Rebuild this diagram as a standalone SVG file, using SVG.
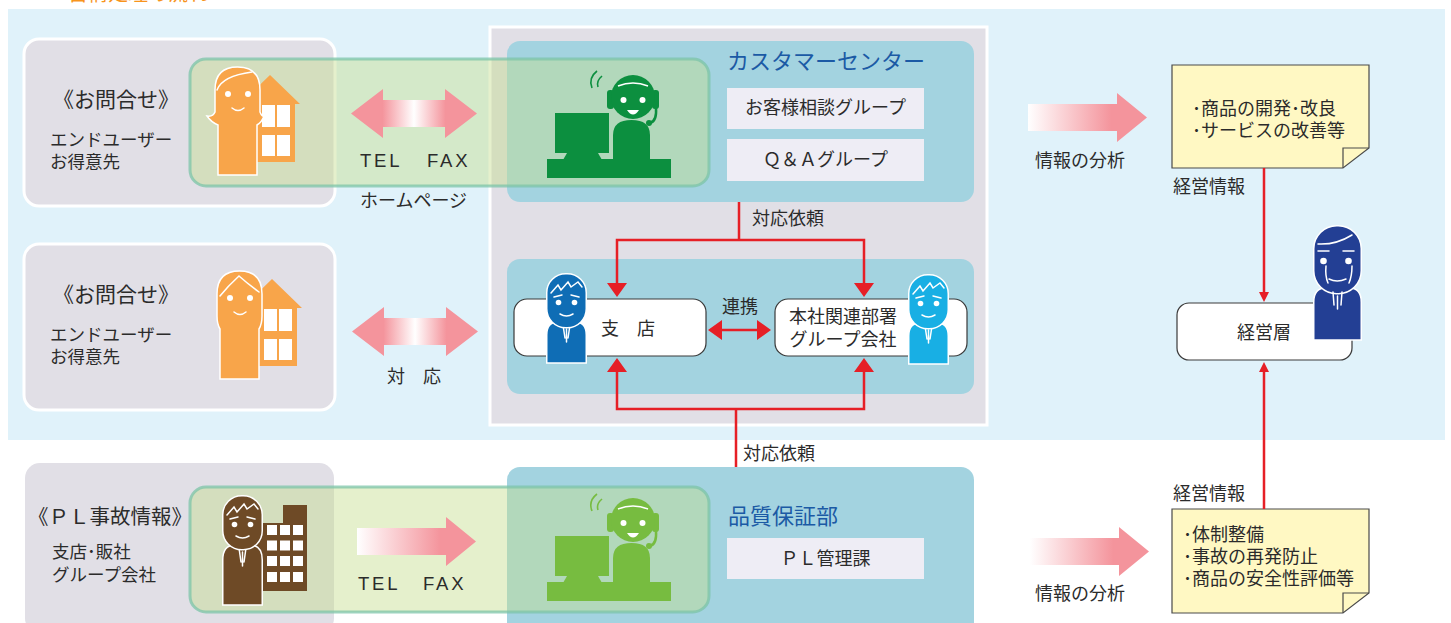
<svg xmlns="http://www.w3.org/2000/svg" width="1451" height="623" viewBox="0 0 1451 623">
<defs>
<style>
.t{font-family:"Liberation Sans","Noto Sans CJK JP",sans-serif;fill:#2b2b2b}
.ttl{font-family:"Liberation Sans","Noto Sans CJK JP",sans-serif;fill:#1b5aa5}
.box{fill:#e1dfe6;stroke:#fff;stroke-width:3}
.teal{fill:#a3d3e0}
.sub{fill:#eeedf5}
.band{fill:#c6de8e;fill-opacity:.45;stroke:#7cc4a8;stroke-opacity:.75;stroke-width:3}
.rb{fill:#fff;stroke:#3a3a3a;stroke-width:1.2}
.note{fill:#fff8c3;stroke:#4a4a4a;stroke-width:1.2}
.red{stroke:#e61f26;stroke-width:2.5;fill:none}
.redh{fill:#e61f26}
.wl{fill:none;stroke:#fff;stroke-width:1.5;stroke-linecap:round}
.wf{fill:#fff}
.ic{fill:currentColor;stroke:#fff;stroke-width:1.5}
</style>
<linearGradient id="g2" x1="0" x2="1" y1="0" y2="0">
<stop offset="0" stop-color="#f4949c"/>
<stop offset=".25" stop-color="#f4949c"/>
<stop offset=".5" stop-color="#fff"/>
<stop offset=".75" stop-color="#f4949c"/>
<stop offset="1" stop-color="#f4949c"/>
</linearGradient>
<linearGradient id="g1" x1="0" x2="1" y1="0" y2="0">
<stop offset="0" stop-color="#fff"/>
<stop offset=".7" stop-color="#f4949c"/>
<stop offset="1" stop-color="#f4949c"/>
</linearGradient>
<!-- double-headed pink arrow -->
<path id="dbl" d="M0 24.5 L32 0 L32 11 L94 11 L94 0 L126 24.5 L94 49 L94 38 L32 38 L32 49 Z" fill="url(#g2)"/>
<!-- single pink arrow -->
<path id="sgl" d="M0 11 L89 11 L89 0 L119 24.5 L89 49 L89 38 L0 38 Z" fill="url(#g1)"/>
<!-- operator with headset at a desk -->
<g id="op">
<path d="M50 4 Q41 11 45 21 M55 9 Q49 14 51 20" fill="none" stroke="currentColor" stroke-width="1.6"/>
<rect x="60" y="23" width="7" height="19" rx="3" fill="currentColor"/>
<rect x="105" y="23" width="7" height="19" rx="3" fill="currentColor"/>
<circle cx="86" cy="30" r="22" fill="currentColor"/>
<path d="M71 19 Q86 13 101 19" fill="none" stroke="#fff" stroke-width="1.5"/>
<circle cx="76.5" cy="33" r="3" fill="#fff"/>
<circle cx="95.5" cy="33" r="3" fill="#fff"/>
<path d="M80 43 Q86 52 92 43 Z" fill="#fff"/>
<path d="M109 41 Q110 54 103 56" fill="none" stroke="currentColor" stroke-width="2.5"/>
<circle cx="102" cy="56" r="3" fill="currentColor"/>
<path d="M66 111 L66 68 Q66 53 84.5 53 Q103 53 103 68 L103 111 Z" fill="currentColor"/>
<rect x="8" y="46" width="54" height="40" fill="currentColor"/>
<path d="M20 86 L51 86 L55 93 L16 93 Z" fill="currentColor"/>
<rect x="0" y="92" width="124" height="19" fill="currentColor"/>
</g>
<!-- man's head -->
<g id="mhead">
<rect x="0.75" y="0.75" width="39.5" height="54" rx="19" class="ic"/>
<polyline points="5,20 12,12 15,17 22,9 25,14 32,9 36,14" class="wl"/>
<path d="M8 24 L16 22 M25 22 L33 24" class="wl"/>
<circle cx="12.5" cy="29.5" r="2.8" class="wf"/>
<circle cx="28.5" cy="29.5" r="2.8" class="wf"/>
<path d="M14 41 Q20.5 45 27 41" class="wl"/>
</g>
<!-- woman and house -->
<g id="house">
<path d="M240 104 L270 75 L300 104 L295 104 L295 162 L245 162 L245 104 Z" fill="#f8a54a"/>
<rect x="262" y="105" width="13" height="22" class="wf"/>
<rect x="277" y="105" width="13" height="22" class="wf"/>
<rect x="262" y="135" width="13" height="21" class="wf"/>
<rect x="277" y="135" width="13" height="21" class="wf"/>
</g>
<g id="wface">
<circle cx="228" cy="94" r="3" class="wf"/>
<circle cx="248" cy="94" r="3" class="wf"/>
<path d="M232 108 Q238 113 244 108" class="wl"/>
</g>
</defs>

<!-- background -->
<rect x="0" y="0" width="1451" height="623" fill="#fff"/>
<rect x="8" y="9" width="1437" height="431" fill="#e0f2fa"/>
<text class="t" x="10" y="0.5" font-size="20" style="fill:#f9b574">■</text>
<text class="t" x="68" y="0.5" font-size="20" style="fill:#f7941d">苦情処理の流れ</text>

<!-- source panels -->
<g id="src-inquiry-1"><rect x="24" y="39" width="311" height="167" rx="15" class="box"/></g>
<g id="src-inquiry-2"><rect x="24" y="244" width="311" height="166" rx="15" class="box"/></g>
<g id="src-pl"><rect x="25" y="463" width="309" height="170" rx="15" fill="#e1dfe6"/></g>

<!-- internal organisation -->
<g id="org-panel"><rect x="490" y="27" width="497" height="398" class="box"/></g>
<g id="customer-center">
<rect x="507" y="41" width="467" height="161" rx="13" class="teal"/>
</g>
<g id="branch-area">
<rect x="507" y="259" width="467" height="135" rx="13" class="teal"/>
</g>
<g id="qa-dept">
<rect x="507" y="467" width="467" height="170" rx="13" class="teal"/>
</g>

<!-- contact channels -->
<rect x="190" y="59" width="519" height="127" rx="16" class="band"/>
<rect x="190" y="487" width="519" height="125" rx="16" class="band"/>

<!-- customers -->
<g id="woman-1">
<use href="#house"/>
<path d="M218 175 L218 125 Q211 122 207 116 Q213 117 215 112 L215 90 Q215 67 237.5 67 Q260 67 260 90 L260 112 Q262 117 264 116 Q262 122 257 125 L257 175 Z" fill="#f8a54a" stroke="#fff" stroke-width="1.5"/>
<path d="M217 90 Q222 76 252 72" class="wl"/>
<use href="#wface"/>
</g>
<g id="woman-2" transform="translate(2,204)">
<use href="#house"/>
<path d="M218 175 L218 125 Q215 120 215 112 L215 90 Q215 67 237.5 67 Q260 67 260 90 L260 112 Q260 120 257 125 L257 175 Z" fill="#f8a54a" stroke="#fff" stroke-width="1.5"/>
<path d="M218 92 Q226 82 237 72 Q246 80 257 88" class="wl"/>
<use href="#wface"/>
</g>
<g id="pl-man" style="color:#6e4a26">
<path d="M250 591 L250 523 L283 523 L283 505 L307 505 L307 591 Z" fill="#6e4a26"/>
<g class="wf">
<rect x="267" y="525" width="10" height="10"/><rect x="280" y="525" width="10" height="10"/><rect x="293" y="525" width="10" height="10"/>
<rect x="267" y="540.5" width="10" height="10"/><rect x="280" y="540.5" width="10" height="10"/><rect x="293" y="540.5" width="10" height="10"/>
<rect x="267" y="556" width="10" height="10"/><rect x="280" y="556" width="10" height="10"/><rect x="293" y="556" width="10" height="10"/>
<rect x="267" y="572" width="10" height="10"/><rect x="280" y="572" width="10" height="10"/><rect x="293" y="572" width="10" height="10"/>
</g>
<path d="M222.75 605 L222.75 560 Q222.75 545 235 545 L250 545 Q262.25 545 262.25 560 L262.25 605 Z" class="ic"/>
<path d="M239 548 L241 562 M246 548 L244 562 M242.5 552 L242.5 566" class="wl"/>
<use href="#mhead" x="222" y="495"/>
</g>

<!-- operators -->
<use href="#op" x="547" y="67" style="color:#0c8f3f"/>
<use href="#op" x="547" y="490" style="color:#77bc40"/>

<!-- customer center contents -->
<text class="ttl" x="727" y="69" font-size="22">カスタマーセンター</text>
<g id="grp-consult"><rect x="727" y="88" width="197" height="41" class="sub"/>
<text class="t" x="825.5" y="114" font-size="18" text-anchor="middle">お客様相談グループ</text></g>
<g id="grp-qa"><rect x="727" y="139" width="197" height="42" class="sub"/>
<text class="t" x="825.5" y="166" font-size="18" text-anchor="middle">Ｑ＆Ａグループ</text></g>

<!-- quality assurance contents -->
<text class="ttl" x="728" y="524" font-size="22">品質保証部</text>
<g id="grp-pl"><rect x="727" y="538" width="197" height="41" class="sub"/>
<text class="t" x="825.5" y="565" font-size="18" text-anchor="middle">ＰＬ管理課</text></g>

<!-- branch and head office -->
<g id="branch">
<rect x="514" y="299" width="192" height="57" rx="13" class="rb"/>
<text class="t" x="628" y="335" font-size="18" text-anchor="middle">支　店</text>
<g style="color:#0f6db5">
<path d="M546.75 363 L546.75 335 Q546.75 322 558 322 L575 322 Q586.25 322 586.25 335 L586.25 363 Z" class="ic"/>
<path d="M563 325 L565 338 M570 325 L568 338 M566.5 329 L566.5 342" class="wl"/>
<use href="#mhead" x="546" y="273"/>
</g>
</g>
<g id="head-office">
<rect x="775" y="299" width="192" height="57" rx="13" class="rb"/>
<text class="t" x="843" y="323" font-size="18" text-anchor="middle">本社関連部署</text>
<text class="t" x="843" y="346" font-size="18" text-anchor="middle">グループ会社</text>
<g style="color:#18afe4">
<path d="M908.75 364 L908.75 336 Q908.75 323 920 323 L937 323 Q948.25 323 948.25 336 L948.25 364 Z" class="ic"/>
<path d="M925 326 L927 339 M932 326 L930 339 M928.5 330 L928.5 343" class="wl"/>
<use href="#mhead" x="908" y="274"/>
</g>
</g>

<!-- management -->
<g id="notes-top">
<path d="M1172 65 H1369 V148 L1343 168 H1172 Z" class="note"/>
<path d="M1343 168 V148 H1369" fill="none" stroke="#4a4a4a" stroke-width="1.2"/>
<text class="t" x="1192" y="115" font-size="18">･商品の開発･改良</text>
<text class="t" x="1192" y="137" font-size="18">･サービスの改善等</text>
</g>
<g id="notes-bottom">
<path d="M1172 509 H1369 V593 L1343 613 H1172 Z" class="note"/>
<path d="M1343 613 V593 H1369" fill="none" stroke="#4a4a4a" stroke-width="1.2"/>
<text class="t" x="1183" y="541" font-size="18">･体制整備</text>
<text class="t" x="1183" y="563" font-size="18">･事故の再発防止</text>
<text class="t" x="1183" y="585" font-size="18">･商品の安全性評価等</text>
</g>
<g id="management">
<rect x="1177" y="303" width="175" height="57" rx="12" class="rb"/>
<text class="t" x="1264" y="339" font-size="18" text-anchor="middle">経営層</text>
<g style="color:#233f94">
<path d="M1313.75 340 L1313.75 302 Q1313.75 288 1326 288 L1349 288 Q1361.25 288 1361.25 302 L1361.25 340 Z" class="ic"/>
<rect x="1313.75" y="225.75" width="47.5" height="68" rx="23" class="ic"/>
<path d="M1318 244 Q1336 245 1352 235" class="wl"/>
<path d="M1318 251 L1329 251 M1343 251 L1354 251" class="wl"/>
<circle cx="1323.5" cy="261" r="3.3" class="wf"/>
<circle cx="1348.5" cy="261" r="3.3" class="wf"/>
<path d="M1326 266 Q1325 276 1328 283 M1352 266 Q1352 276 1349 283 M1329 279 Q1337 283 1346 279" class="wl"/>
<path d="M1333 292 L1334 305 M1342 292 L1341 305 M1337.5 296 L1337.5 309" class="wl"/>
</g>
</g>

<!-- arrows and connectors -->
<g id="connectors">
<use href="#dbl" x="351" y="89"/>
<use href="#dbl" x="352" y="307"/>
<use href="#sgl" x="357" y="517"/>
<use href="#sgl" x="1028" y="93"/>
<use href="#sgl" x="1030" y="527"/>
<path d="M739 202 V240 M617 283 V240 H864 V283" class="red"/>
<path d="M607 283 L627 283 L617 297 Z M854 283 L874 283 L864 297 Z" class="redh"/>
<path d="M736 467 V409 M617 372 V409 H864 V372" class="red"/>
<path d="M607 372 L627 372 L617 358 Z M854 372 L874 372 L864 358 Z" class="redh"/>
<path d="M721 330 H758" class="red"/>
<path d="M708 330 L722 320 L722 340 Z M771 330 L757 320 L757 340 Z" class="redh"/>
<path d="M1264 168 V293 M1264 509 V371" class="red" stroke-width="2"/>
<path d="M1259 292 L1269 292 L1264 302 Z M1259 372 L1269 372 L1264 362 Z" class="redh"/>
</g>

<!-- labels -->
<text class="t" x="53" y="107" font-size="21">《お問合せ》</text>
<text class="t" x="50" y="146" font-size="17.5">エンドユーザー</text>
<text class="t" x="50" y="168" font-size="17.5">お得意先</text>
<text class="t" x="53" y="302" font-size="21">《お問合せ》</text>
<text class="t" x="50" y="341" font-size="17.5">エンドユーザー</text>
<text class="t" x="50" y="363" font-size="17.5">お得意先</text>
<text class="t" x="28" y="524" font-size="20.5">《ＰＬ事故情報》</text>
<text class="t" x="52" y="558" font-size="17.5">支店･販社</text>
<text class="t" x="52" y="581" font-size="17.5">グループ会社</text>
<text class="t" font-size="18.5" letter-spacing="2.8" y="167"><tspan x="360">TEL</tspan><tspan x="427">FAX</tspan></text>
<text class="t" x="360" y="207" font-size="18">ホームページ</text>
<text class="t" x="387" y="383" font-size="18">対　応</text>
<text class="t" font-size="18.5" letter-spacing="2.8" y="590"><tspan x="358">TEL</tspan><tspan x="423">FAX</tspan></text>
<text class="t" x="752" y="225" font-size="18">対応依頼</text>
<text class="t" x="743" y="460" font-size="18">対応依頼</text>
<text class="t" x="740" y="313" font-size="18" text-anchor="middle">連携</text>
<text class="t" x="1035" y="167" font-size="18">情報の分析</text>
<text class="t" x="1035" y="600" font-size="18">情報の分析</text>
<text class="t" x="1173" y="193" font-size="18">経営情報</text>
<text class="t" x="1173" y="500" font-size="18">経営情報</text>
</svg>
